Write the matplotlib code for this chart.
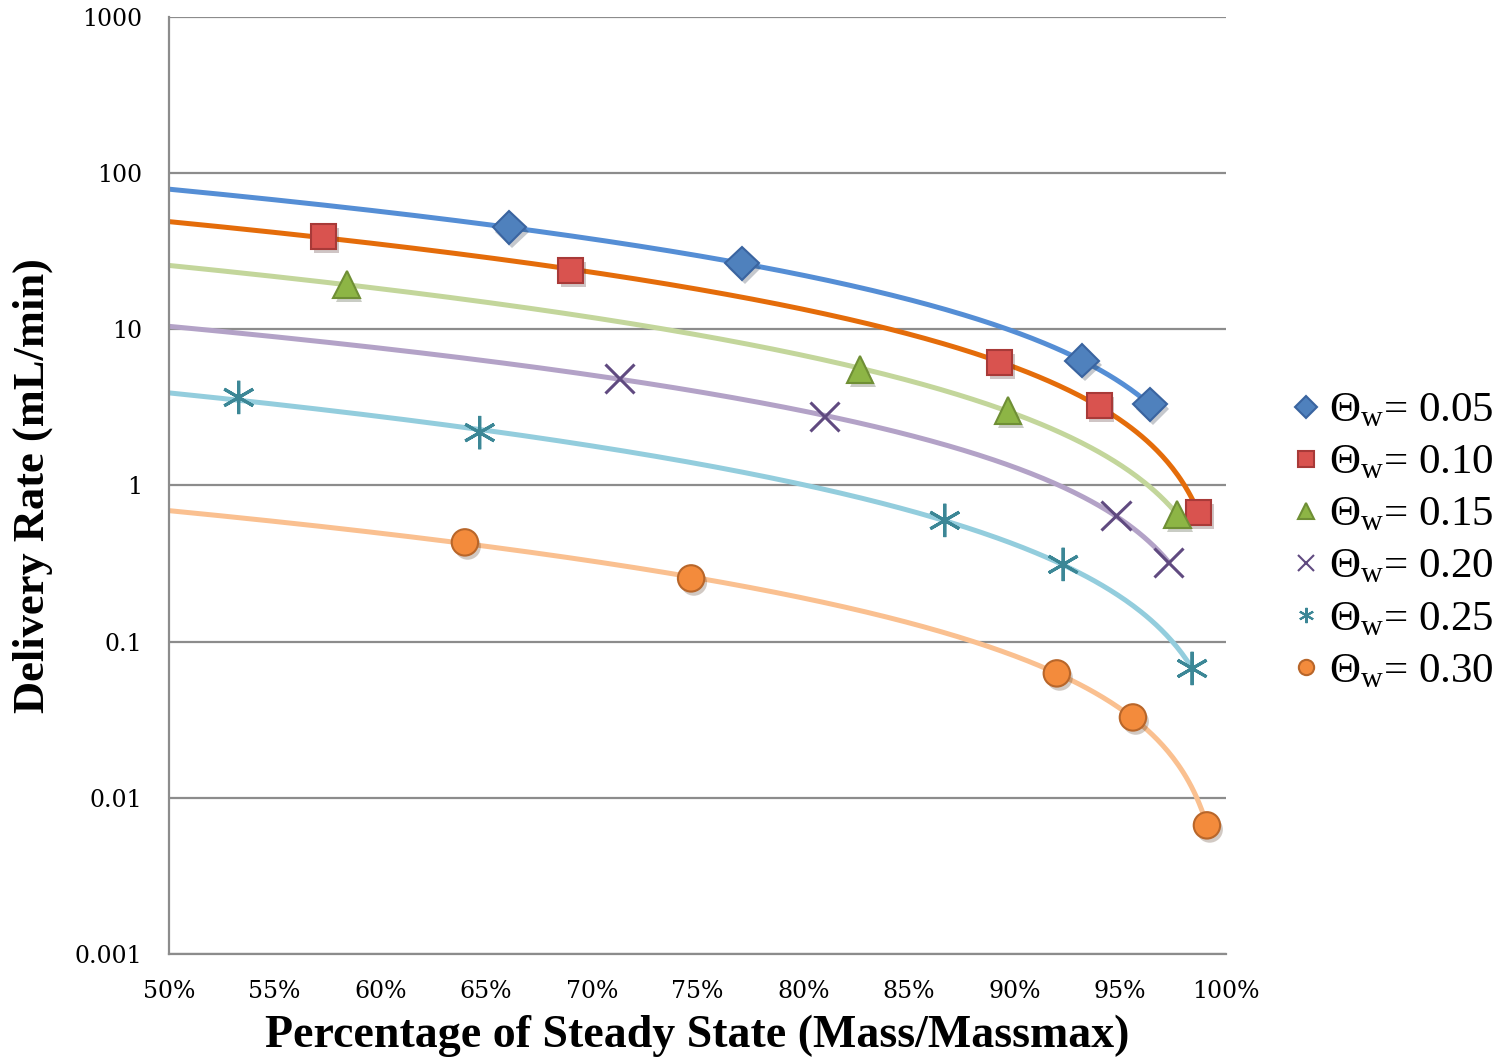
import numpy as np
import matplotlib
matplotlib.use("Agg")
import matplotlib.pyplot as plt
import matplotlib.patheffects as pe
from matplotlib.lines import Line2D

plt.rcParams["font.family"] = ["Liberation Serif", "DejaVu Serif"]
plt.rcParams["mathtext.fontset"] = "custom"
plt.rcParams["mathtext.rm"] = "Liberation Serif"
plt.rcParams["mathtext.it"] = "Liberation Serif"

# values (x in %, delivery rate in mL/min)
x_005 = [66.1, 77.1, 93.2, 96.4]
y_005 = [44.9, 26.4, 6.31, 3.30]

x_010 = [57.3, 69.0, 89.3, 94.0, 98.7]
y_010 = [39.3, 23.8, 6.13, 3.25, 0.672]

x_015 = [58.4, 82.7, 89.7, 97.7]
y_015 = [19.4, 5.53, 3.02, 0.652]

x_020 = [71.3, 81.0, 94.8, 97.3]
y_020 = [4.84, 2.77, 0.642, 0.321]

x_025 = [53.3, 64.7, 86.7, 92.3, 98.4]
y_025 = [3.66, 2.18, 0.597, 0.312, 0.0673]

x_030 = [64.0, 74.7, 92.0, 95.6, 99.1]
y_030 = [0.432, 0.254, 0.0626, 0.0327, 0.00666]

labels = ["0.05", "0.10", "0.15", "0.20", "0.25", "0.30"]
xs = [x_005, x_010, x_015, x_020, x_025, x_030]
ys = [y_005, y_010, y_015, y_020, y_025, y_030]

# marker styles and trendline colours
markers = ["D", "s", "^", "x", "*", "o"]
face = ["#4F81BD", "#D9534F", "#8DB545", "#7B5EA0", "#4BACC6", "#F38B3C"]
edge = ["#3A64A0", "#A83A38", "#6F8F35", "#604A80", "#3C8796", "#B8662A"]
line_col = ["#558ED5", "#E46C0A", "#C3D69B", "#B3A2C7", "#93CDDD", "#FAC090"]
msize = [17, 18, 19, 21, 24, 19]

fig = plt.figure(figsize=(15.07, 10.59), dpi=100)
ax = fig.add_axes([0.1121, 0.0992, 0.7014, 0.8848])

shadow = [pe.SimplePatchShadow(offset=(2, -3), alpha=0.25), pe.Normal()]

for i in range(6):
    x = np.array(xs[i])
    y = np.array(ys[i])
    # polynomial trendline (relative-error weighting so it follows the small values)
    c = np.polyfit(x, y, 2, w=1 / y)
    xx = np.linspace(50, x.max(), 400)
    yy = np.polyval(c, xx)
    ok = yy > 0
    ax.plot(xx[ok], yy[ok], color=line_col[i], lw=3.6, zorder=2,
            solid_capstyle="round")
    if markers[i] == "x":
        ax.plot(x, y, linestyle="none", marker="x", ms=msize[i], mec=edge[i],
                mew=2.2, zorder=3, path_effects=shadow)
    elif markers[i] == "*":
        ax.plot(x, y, linestyle="none", marker=(6, 2, 0), ms=msize[i],
                mec=edge[i], mew=2.2, zorder=3, path_effects=shadow)
    else:
        ax.plot(x, y, linestyle="none", marker=markers[i], ms=msize[i],
                mfc=face[i], mec=edge[i], mew=1.5, zorder=3, path_effects=shadow)

ax.set_yscale("log")
ax.set_ylim(0.001, 1000)
ax.set_xlim(50, 100)
ax.set_yticks([0.001, 0.01, 0.1, 1, 10, 100, 1000])
ax.set_yticklabels(["0.001", "0.01", "0.1", "1", "10", "100", "1000"])
ax.yaxis.set_minor_locator(matplotlib.ticker.NullLocator())
ax.set_xticks(np.arange(50, 101, 5))
ax.set_xticklabels([f"{v}%" for v in range(50, 101, 5)])
ax.tick_params(length=0, labelsize=17)
ax.tick_params(axis="y", pad=19)
ax.tick_params(axis="x", pad=19)
for t in ax.get_xticklabels() + ax.get_yticklabels():
    t.set_family("DejaVu Serif")
ax.grid(axis="y", color="#8C8C8C", lw=1.6)
ax.set_axisbelow(True)
for s in ["top", "right"]:
    ax.spines[s].set_visible(False)
for s in ["left", "bottom"]:
    ax.spines[s].set_color("#8C8C8C")
    ax.spines[s].set_linewidth(1.6)

ax.set_xlabel("Percentage of Steady State (Mass/Massmax)", fontsize=33,
              fontweight="bold", labelpad=8)
ax.set_ylabel("Delivery Rate (mL/min)", fontsize=32, fontweight="bold",
              labelpad=16)

handles = []
for i in range(6):
    m = markers[i]
    if m == "*":
        m = (6, 2, 0)
    handles.append(Line2D([], [], linestyle="none", marker=m, ms=11,
                          mfc=face[i], mec=edge[i], mew=1.5))
fig.legend(handles, [r"$\Theta_{\rm w}$= " + l for l in labels],
           loc="center left", bbox_to_anchor=(0.845, 0.489), frameon=False,
           fontsize=31, handlelength=0.5, handletextpad=0.3, labelspacing=0.3,
           borderpad=0)

fig.savefig("out.png", dpi=100)
